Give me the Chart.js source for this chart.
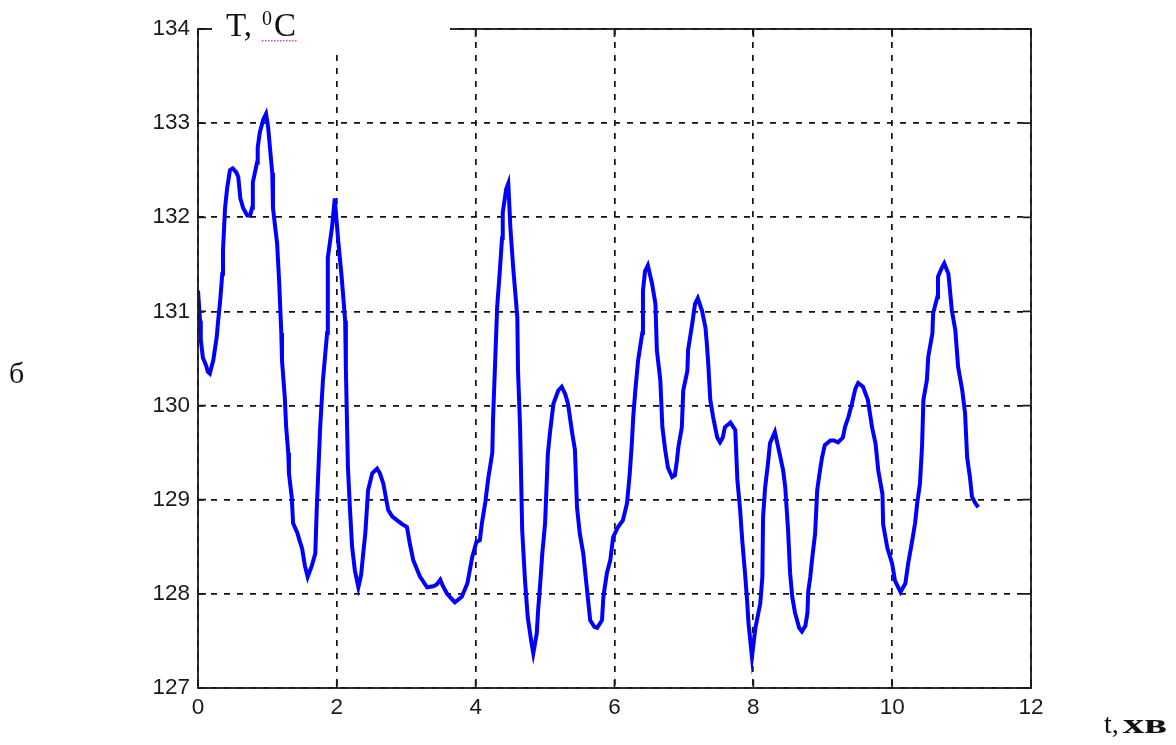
<!DOCTYPE html>
<html>
<head>
<meta charset="utf-8">
<script src="https://cdn.jsdelivr.net/npm/chart.js@4.4.1/dist/chart.umd.min.js"></script>
<style>
  html, body { margin: 0; padding: 0; background: #fff; }
  #wrap { width: 1176px; height: 745px; position: relative; }
</style>
</head>
<body>
<div id="wrap"><canvas id="tempChart"></canvas></div>
<script>
// temperature trace, time in minutes
const timeMin = [
  0.00, 0.03, 0.04, 0.07, 0.12, 0.14, 0.17, 0.22, 0.27, 0.29, 0.32, 0.35, 0.36, 0.39, 0.42, 0.46,
  0.50, 0.55, 0.58, 0.61, 0.65, 0.71, 0.75, 0.78, 0.79, 0.85, 0.86, 0.89, 0.94, 0.98, 1.01, 1.04,
  1.07, 1.08, 1.14, 1.17, 1.20, 1.21, 1.25, 1.27, 1.30, 1.31, 1.35, 1.37, 1.43, 1.47, 1.50, 1.54,
  1.58, 1.64, 1.69, 1.71, 1.76, 1.80, 1.86, 1.87, 1.93, 1.97, 2.02, 2.07, 2.12, 2.13, 2.16, 2.19,
  2.22, 2.26, 2.31, 2.35, 2.38, 2.41, 2.45, 2.51, 2.58, 2.62, 2.67, 2.74, 2.80, 2.87, 2.94, 3.01,
  3.05, 3.10, 3.16, 3.20, 3.30, 3.39, 3.44, 3.49, 3.53, 3.59, 3.65, 3.70, 3.80, 3.88, 3.95, 4.01,
  4.06, 4.09, 4.14, 4.18, 4.24, 4.25, 4.28, 4.31, 4.35, 4.38, 4.39, 4.44, 4.47, 4.50, 4.54, 4.60,
  4.61, 4.64, 4.67, 4.71, 4.75, 4.80, 4.83, 4.88, 4.90, 4.93, 4.96, 5.00, 5.04, 5.07, 5.12, 5.19,
  5.24, 5.29, 5.33, 5.39, 5.43, 5.46, 5.50, 5.55, 5.61, 5.65, 5.71, 5.75, 5.82, 5.84, 5.89, 5.94,
  5.98, 6.05, 6.12, 6.18, 6.22, 6.25, 6.27, 6.30, 6.34, 6.40, 6.41, 6.44, 6.48, 6.54, 6.59, 6.61,
  6.66, 6.69, 6.73, 6.77, 6.83, 6.87, 6.90, 6.92, 6.97, 6.99, 7.05, 7.06, 7.09, 7.12, 7.16, 7.20,
  7.26, 7.31, 7.33, 7.35, 7.38, 7.42, 7.48, 7.52, 7.56, 7.59, 7.67, 7.74, 7.77, 7.81, 7.84, 7.88,
  7.91, 7.93, 7.98, 8.03, 8.10, 8.13, 8.14, 8.17, 8.21, 8.24, 8.31, 8.39, 8.43, 8.46, 8.50, 8.53,
  8.56, 8.60, 8.66, 8.70, 8.75, 8.78, 8.79, 8.82, 8.85, 8.89, 8.92, 8.96, 8.99, 9.03, 9.11, 9.16,
  9.22, 9.29, 9.32, 9.37, 9.42, 9.47, 9.51, 9.58, 9.65, 9.71, 9.76, 9.80, 9.86, 9.87, 9.93, 10.00,
  10.04, 10.12, 10.19, 10.23, 10.29, 10.33, 10.36, 10.40, 10.43, 10.45, 10.50, 10.52, 10.58, 10.59, 10.65, 10.66,
  10.72, 10.75, 10.81, 10.86, 10.91, 10.95, 11.01, 11.05, 11.08, 11.12, 11.15, 11.20, 11.24
];
const tempC = [
  131.22, 130.90, 130.70, 130.51, 130.42, 130.36, 130.34, 130.48, 130.73, 130.90, 131.12, 131.40, 131.65, 132.10, 132.31, 132.50,
  132.52, 132.48, 132.43, 132.20, 132.10, 132.02, 132.02, 132.10, 132.37, 132.58, 132.74, 132.90, 133.04, 133.10, 132.96, 132.71,
  132.47, 132.10, 131.72, 131.30, 130.77, 130.48, 130.09, 129.77, 129.50, 129.28, 129.03, 128.75, 128.65, 128.55, 128.48, 128.30,
  128.18, 128.30, 128.43, 128.89, 129.77, 130.27, 130.77, 131.57, 131.89, 132.20, 131.75, 131.36, 130.90, 130.40, 129.34, 128.89,
  128.50, 128.25, 128.07, 128.20, 128.43, 128.64, 129.10, 129.28, 129.33, 129.28, 129.17, 128.89, 128.82, 128.78, 128.74, 128.71,
  128.54, 128.36, 128.25, 128.18, 128.07, 128.08, 128.10, 128.15, 128.08, 128.00, 127.95, 127.91, 127.97, 128.11, 128.39, 128.55,
  128.57, 128.75, 128.98, 129.22, 129.50, 129.85, 130.45, 131.05, 131.45, 131.78, 132.05, 132.30, 132.36, 131.89, 131.47, 130.94,
  130.37, 129.77, 128.68, 128.15, 127.75, 127.50, 127.37, 127.58, 127.83, 128.11, 128.43, 128.75, 129.49, 129.71, 130.02, 130.16,
  130.20, 130.12, 130.02, 129.71, 129.53, 128.92, 128.64, 128.43, 128.00, 127.72, 127.65, 127.64, 127.72, 127.97, 128.22, 128.36,
  128.60, 128.71, 128.78, 128.96, 129.28, 129.60, 129.88, 130.16, 130.48, 130.77, 131.22, 131.43, 131.49, 131.30, 131.08, 130.59,
  130.27, 129.77, 129.53, 129.34, 129.24, 129.26, 129.42, 129.56, 129.77, 130.16, 130.37, 130.59, 130.73, 130.87, 131.08, 131.14,
  131.01, 130.83, 130.66, 130.45, 130.06, 129.88, 129.66, 129.61, 129.66, 129.77, 129.82, 129.74, 129.21, 128.89, 128.57, 128.22,
  127.93, 127.69, 127.33, 127.64, 127.90, 128.18, 128.81, 129.13, 129.38, 129.60, 129.72, 129.45, 129.31, 129.13, 128.68, 128.22,
  127.97, 127.80, 127.64, 127.60, 127.66, 127.80, 128.02, 128.18, 128.39, 128.64, 129.10, 129.31, 129.45, 129.58, 129.63, 129.63,
  129.61, 129.66, 129.77, 129.88, 130.02, 130.18, 130.24, 130.20, 130.06, 129.77, 129.60, 129.31, 129.06, 128.74, 128.49, 128.32,
  128.14, 128.02, 128.11, 128.32, 128.57, 128.75, 128.96, 129.17, 129.56, 130.06, 130.27, 130.52, 130.77, 130.98, 131.15, 131.37,
  131.47, 131.51, 131.40, 131.01, 130.80, 130.41, 130.16, 129.92, 129.45, 129.24, 129.03, 128.96, 128.92
];
const xTicks = [0, 2, 4, 6, 8, 10, 12];
const yTicks = [127, 128, 129, 130, 131, 132, 133, 134];

const points = timeMin.map((t, i) => ({ x: t, y: tempC[i] }));

// box, inward ticks and the hand-placed captions
const matlabFrame = {
  id: 'matlabFrame',
  afterDraw(chart) {
    const { ctx, chartArea: a, scales: { x, y } } = chart;
    ctx.save();
    ctx.setLineDash([]);
    ctx.strokeStyle = '#1a1a1a';
    ctx.lineWidth = 1.8;
    ctx.strokeRect(a.left, a.top, a.right - a.left, a.bottom - a.top);

    const tl = 8;
    ctx.beginPath();
    xTicks.forEach(v => {
      const px = x.getPixelForValue(v);
      ctx.moveTo(px, a.bottom); ctx.lineTo(px, a.bottom - tl);
      ctx.moveTo(px, a.top); ctx.lineTo(px, a.top + tl);
    });
    yTicks.forEach(v => {
      const py = y.getPixelForValue(v);
      ctx.moveTo(a.left, py); ctx.lineTo(a.left + tl, py);
      ctx.moveTo(a.right, py); ctx.lineTo(a.right - tl, py);
    });
    ctx.stroke();

    // the y caption sits on a white patch cut out of the top edge
    ctx.fillStyle = '#fff';
    ctx.fillRect(a.left + 14, 0, 238, a.top + 23);

    ctx.fillStyle = '#111';
    ctx.textBaseline = 'alphabetic';
    ctx.textAlign = 'left';
    ctx.font = '33px "Liberation Serif"';
    ctx.fillText('T,', 226, 36);
    ctx.font = '20px "Liberation Serif"';
    ctx.fillText('0', 262, 25);
    ctx.font = '33px "Liberation Serif"';
    ctx.fillText('C', 274, 36);
    ctx.fillStyle = '#e040e0';
    for (let dx = 262; dx < 297; dx += 3) ctx.fillRect(dx, 40, 1.5, 1.5);

    ctx.fillStyle = '#111';
    ctx.font = '28px "Liberation Serif"';
    ctx.fillText('t,', 1104, 733);
    // the unit is set wide, so stretch it to its box
    ctx.font = 'bold 28px "Liberation Serif"';
    const unit = 'хв';
    const sx = 44 / ctx.measureText(unit).width;
    ctx.save();
    ctx.translate(1123, 733);
    ctx.scale(sx, 1);
    ctx.fillText(unit, 0, 0);
    ctx.restore();

    ctx.font = '30px "Liberation Serif"';
    ctx.fillText('б', 9, 383);
    ctx.restore();
  }
};

const tickFont = { family: '"Liberation Sans", Arial, sans-serif', size: 22.5 };

new Chart(document.getElementById('tempChart'), {
  type: 'line',
  data: {
    datasets: [{
      data: points,
      borderColor: '#0000ff',
      borderWidth: 4,
      pointRadius: 0,
      tension: 0,
      fill: false
    }]
  },
  options: {
    responsive: true,
    maintainAspectRatio: false,
    animation: false,
    layout: { padding: { left: 0, right: 145, top: 29, bottom: 0 } },
    plugins: { legend: { display: false }, tooltip: { enabled: false } },
    scales: {
      x: {
        type: 'linear',
        min: 0,
        max: 12,
        afterBuildTicks: s => { s.ticks = xTicks.map(v => ({ value: v })); },
        afterFit: s => { s.height = 57; },
        ticks: { font: tickFont, color: '#1a1a1a', padding: 6, maxRotation: 0 },
        grid: { color: '#111', lineWidth: 1.7, drawTicks: false },
        border: { display: false, dash: [6, 7] }
      },
      y: {
        type: 'linear',
        min: 127,
        max: 134,
        afterBuildTicks: s => { s.ticks = yTicks.map(v => ({ value: v })); },
        afterFit: s => { s.width = 198; },
        ticks: { font: tickFont, color: '#1a1a1a', padding: 8 },
        grid: { color: '#111', lineWidth: 1.7, drawTicks: false },
        border: { display: false, dash: [6, 7] }
      }
    }
  },
  plugins: [matlabFrame]
});
</script>
</body>
</html>
